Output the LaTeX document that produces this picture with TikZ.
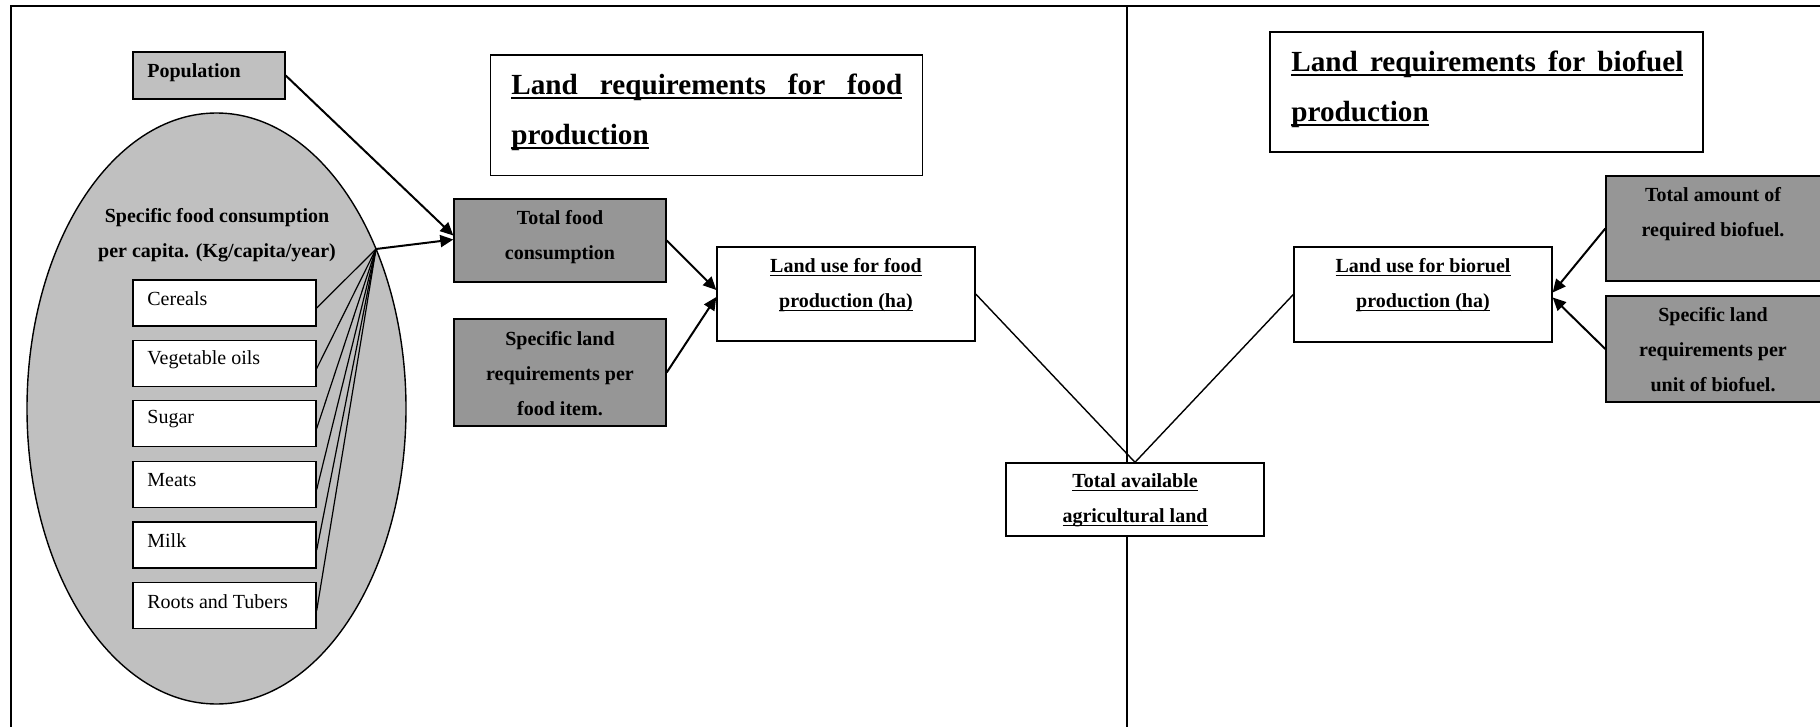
\documentclass[tikz,border=0pt]{standalone}
\usepackage{fontspec}
\setmainfont{Liberation Serif}
\usetikzlibrary{shapes.geometric,arrows.meta,calc}
\newcommand\myul[1]{\setbox0\hbox{#1}\rlap{\rule[-0.16em]{\wd0}{0.065em}}\box0}
\definecolor{lgray}{RGB}{192,192,192}
\definecolor{dgray}{RGB}{150,150,150}
\tikzset{
  box/.style={draw, line width=0.7pt, inner sep=0pt},
  dbox/.style={box, fill=dgray},
  wbox/.style={box, fill=white},
  item/.style={box, fill=white, minimum width=91.5pt, minimum height=23pt},
  txt/.style={inner sep=0pt, align=center, font=\bfseries\fontsize{10pt}{17.5pt}\selectfont},
  itxt/.style={inner sep=0pt, anchor=west, font=\fontsize{10pt}{12pt}\selectfont},
  ttxt/.style={inner sep=0pt, anchor=west, align=left, font=\bfseries\fontsize{14.6pt}{25pt}\selectfont},
  arr/.style={line width=1pt, -{Triangle[length=6.5pt,width=6pt]}},
  thinl/.style={line width=0.6pt},
}
\begin{document}
\begin{tikzpicture}[x=0.5pt,y=-0.5pt]
\useasboundingbox (0,0) rectangle (1820,727);
% frame and divider
\draw[line width=0.8pt] (11,740) -- (11,6) -- (1830,6);
\coordinate (divtop) at (1127,6);
\coordinate (divbot) at (1127,740);
\draw[line width=0.7pt] (divtop) -- (divbot);

% population
\node[box, fill=lgray, minimum width=76pt, minimum height=23.5pt] (pop) at (209,75.5) {};
\node[txt, anchor=west] (poptxt) at (147,73) {Population};

% ellipse
\node[draw, line width=0.7pt, ellipse, fill=lgray, minimum width=189.5pt, minimum height=295.5pt, inner sep=0pt] (ell) at (216.5,408.5) {};
\node[txt] (elltxt) at (217,235.5) {Specific food consumption\\per capita. (Kg/capita/year)};

% items
\node[item] (cer) at (224.5,303) {};
\node[item] (veg) at (224.5,363.5) {};
\node[item] (sug) at (224.5,423.5) {};
\node[item] (mea) at (224.5,484.5) {};
\node[item] (mil) at (224.5,545) {};
\node[item] (roo) at (224.5,605.5) {};
\node[itxt] (certxt) at (147,299) {Cereals};
\node[itxt] (vegtxt) at (147,359.5) {Vegetable oils};
\node[itxt] (sugtxt) at (147,419.5) {Sugar};
\node[itxt] (meatxt) at (147,480.5) {Meats};
\node[itxt] (miltxt) at (147,541) {Milk};
\node[itxt] (rootxt) at (147,601.5) {Roots and Tubers};

\coordinate (fan) at (376,249);
\foreach \n in {cer,veg,sug,mea,mil,roo}
  \draw[thinl] ($(\n.east)+(0,5)$) -- (fan);

% food side boxes
\node[dbox, minimum width=106pt, minimum height=41.5pt] (tfc) at (560,240.5) {};
\node[txt] (tfctxt) at (560,237) {Total food\\consumption};
\node[dbox, minimum width=106pt, minimum height=53.5pt] (slr) at (560,372.5) {};
\node[txt] (slrtxt) at (560,374) {Specific land\\requirements per\\food item.};
\node[wbox, minimum width=129pt, minimum height=47pt] (luf) at (846,294) {};
\node[txt] (luftxt) at (846,285.5) {\myul{Land use for food}\\\myul{production (ha)}};

% titles
\node[box, minimum width=216pt, minimum height=60.35pt] (tfood) at (706.7,115.3) {};
\node[ttxt] (tfoodtxt) at (511,112) {\myul{\makebox[195.5pt][s]{Land requirements for food}}\\\myul{production}};
\node[box, minimum width=216.5pt, minimum height=60pt] (tbio) at (1486.5,92) {};
\node[ttxt] (tbiotxt) at (1291,89) {\myul{\makebox[196pt][s]{Land requirements for biofuel}}\\\myul{production}};

% total available land
\node[wbox, minimum width=129pt, minimum height=36.5pt] (tal) at (1135,499.5) {};
\node[txt] (taltxt) at (1135,500.5) {\myul{Total available}\\\myul{agricultural land}};

% biofuel side
\node[wbox, minimum width=129pt, minimum height=47.5pt] (lub) at (1423,294.5) {};
\node[txt] (lubtxt) at (1423,285.5) {\myul{Land use for bioruel}\\\myul{production (ha)}};
\node[dbox, minimum width=109pt, minimum height=52.5pt] (tar) at (1715,228.5) {};
\node[txt] (tartxt) at (1713,214) {Total amount of\\required biofuel.};
\node[dbox, minimum width=109pt, minimum height=53pt] (srb) at (1715,349) {};
\node[txt] (srbtxt) at (1713,350) {Specific land\\requirements per\\unit of biofuel.};

% connectors
\draw[arr] (pop.east) -- ($(tfc.west)+(0,-5)$);
\draw[arr] (fan) -- ($(tfc.west)+(0,-1)$);
\draw[arr] (tfc.east) -- ($(luf.west)+(0,-4)$);
\draw[arr] (slr.east) -- ($(luf.west)+(0,3)$);
\draw[line width=0.7pt] (luf.east) -- (tal.north);
\draw[line width=0.7pt] (lub.west) -- (tal.north);
\draw[arr] (tar.west) -- ($(lub.east)+(0,-2)$);
\draw[arr] (srb.west) -- ($(lub.east)+(0,3)$);
\end{tikzpicture}
\end{document}
